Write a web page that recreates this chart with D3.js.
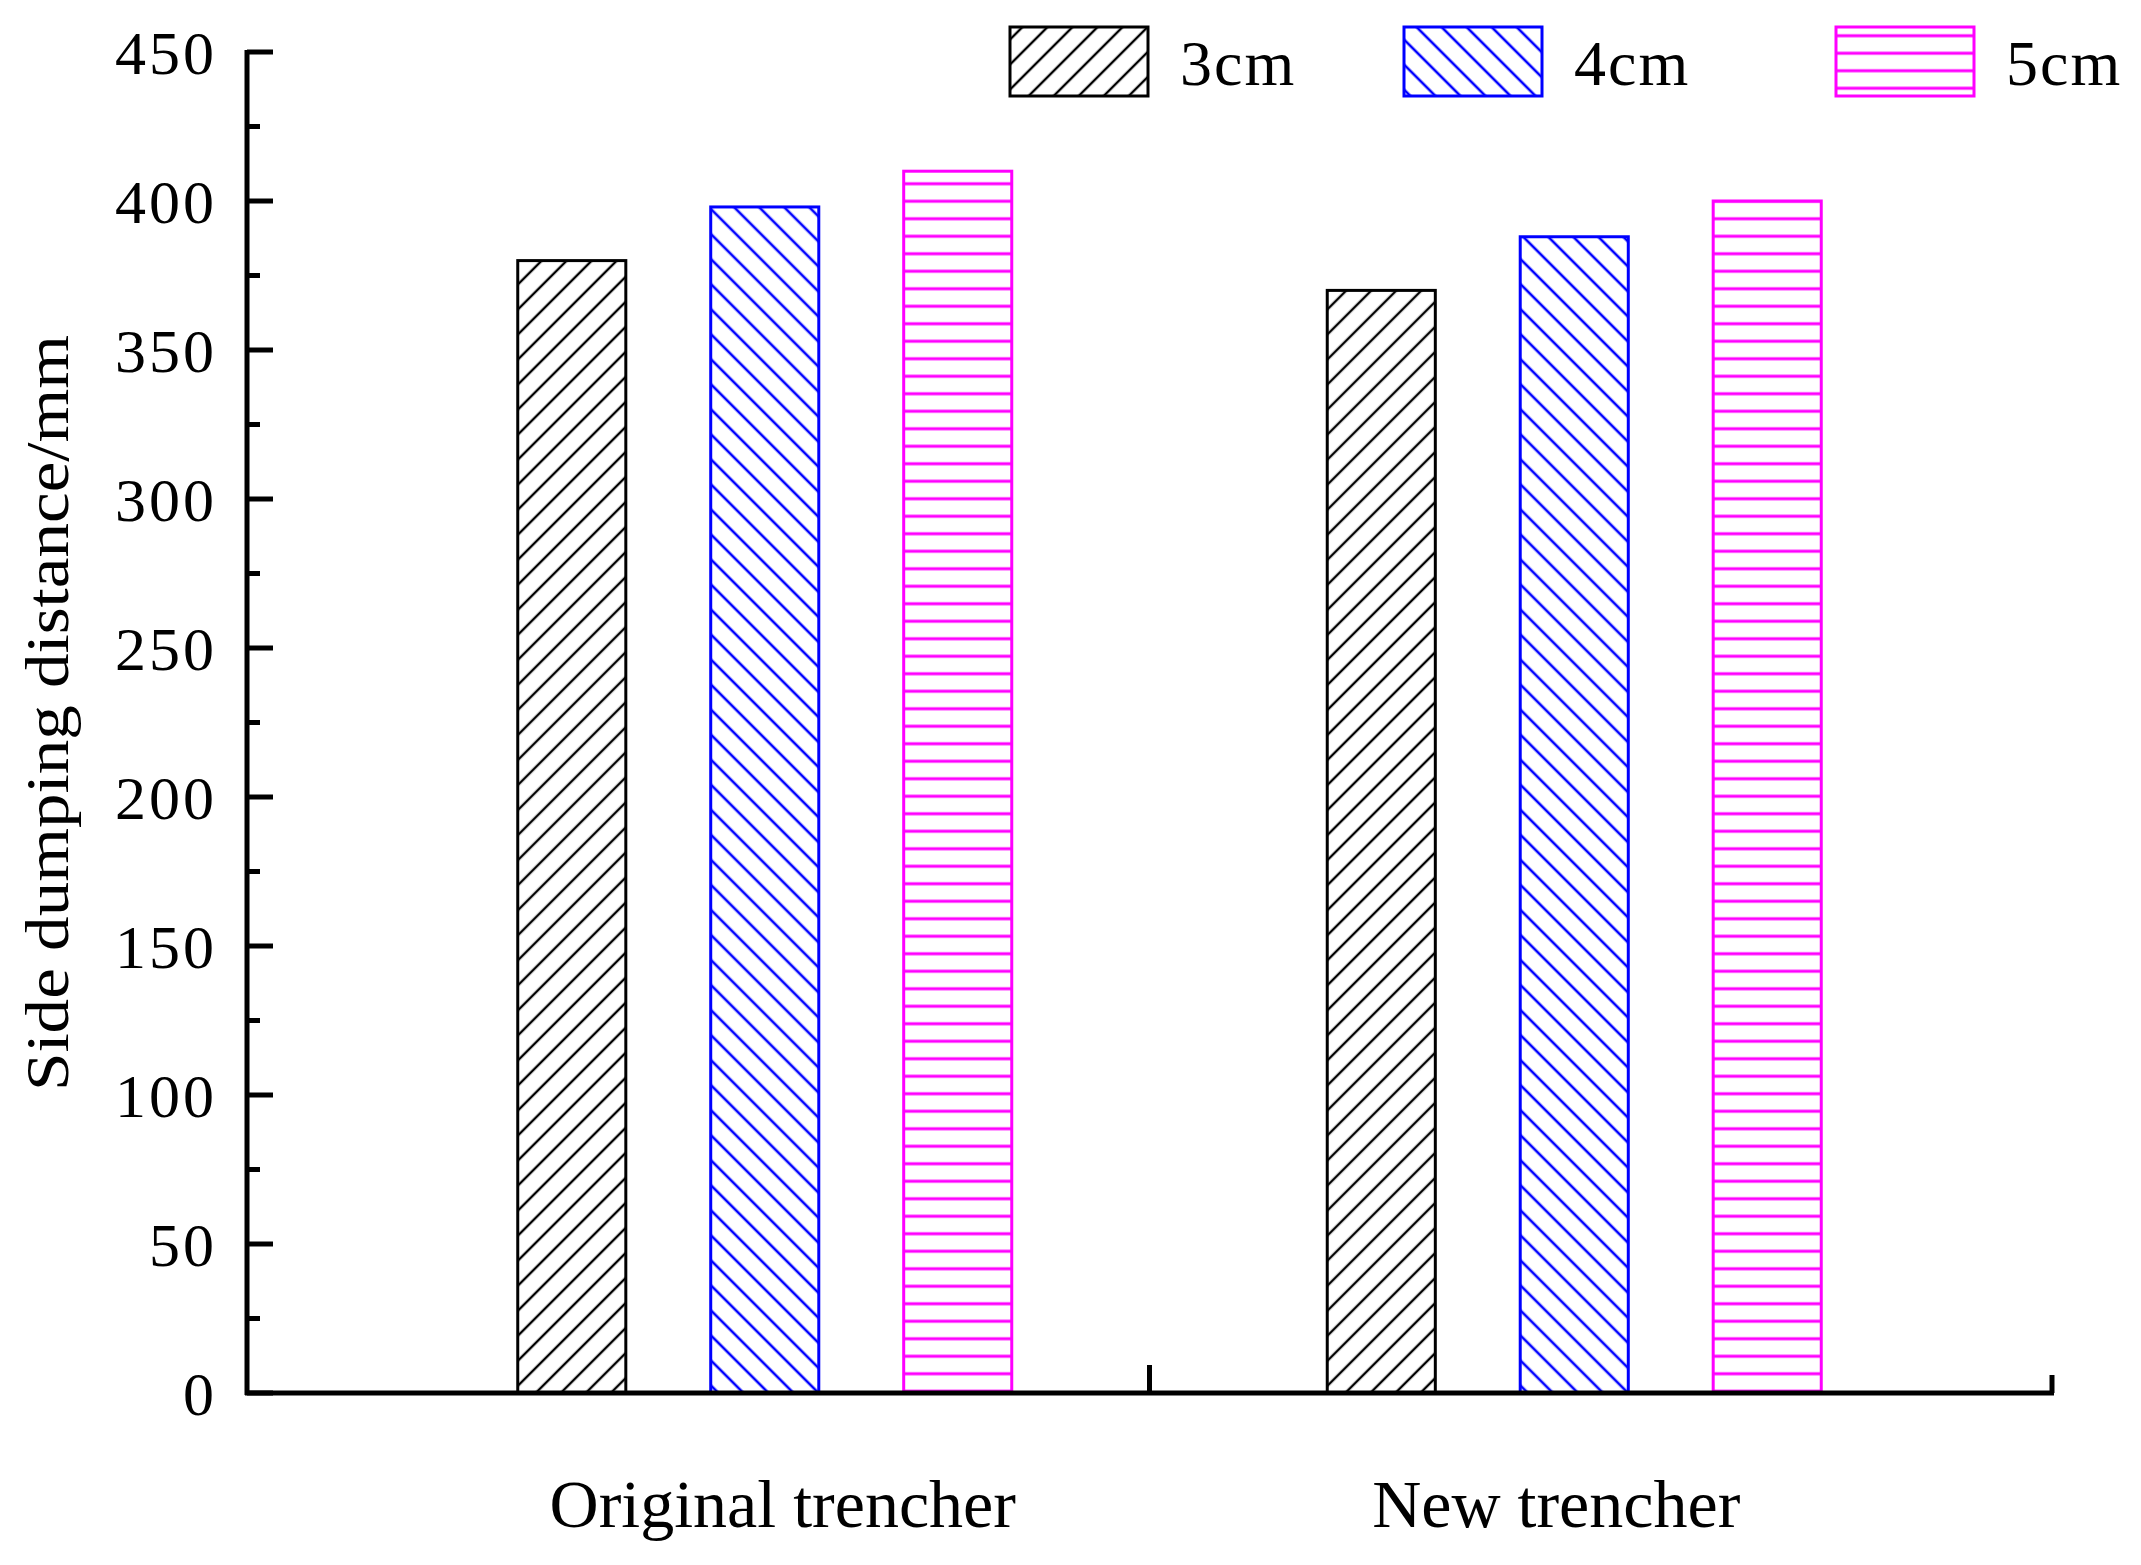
<!DOCTYPE html>
<html>
<head>
<title>Side dumping distance</title>
<style>
 body { margin: 0; background: #fff; }
 text { font-family: "Liberation Serif", "Times New Roman", serif; fill: #000; }
</style>
</head>
<body>
<div id="chart"></div>
<script src="https://d3js.org/d3.v7.min.js"></script>
<script>

const categories = ['Original trencher', 'New trencher'];
const series = ['3cm', '4cm', '5cm'];
const values3cm = [380, 370];
const values4cm = [398, 388];
const values5cm = [410, 400];
const yTicks = [0, 50, 100, 150, 200, 250, 300, 350, 400, 450];
const yMinorTicks = [25, 75, 125, 175, 225, 275, 325, 375, 425];

const colors = { '3cm': '#000000', '4cm': '#0000ff', '5cm': '#ff00ff' };
const valuesBySeries = { '3cm': values3cm, '4cm': values4cm, '5cm': values5cm };

const width = 2141;
const height = 1565;
const margin = { top: 52, bottom: 172, left: 247, right: 89 };
const legendX = [1010, 1404, 1836];

const svg = d3.select('#chart')
  .append('svg')
  .attr('width', width)
  .attr('height', height);

// hatch patterns
const defs = svg.append('defs');
function hatch(id, color, angle, spacing, sw) {
  const p = defs.append('pattern')
    .attr('id', id)
    .attr('patternUnits', 'userSpaceOnUse')
    .attr('width', spacing)
    .attr('height', spacing)
    .attr('patternTransform', `rotate(${angle})`);
  p.append('rect').attr('width', spacing).attr('height', spacing).attr('fill', '#fff');
  p.append('line')
    .attr('x1', 0).attr('y1', spacing / 2)
    .attr('x2', spacing).attr('y2', spacing / 2)
    .attr('stroke', color)
    .attr('stroke-width', sw);
}
hatch('p3cm', colors['3cm'], -45, 17.7, 2.4);
hatch('p4cm', colors['4cm'], 45, 17.7, 2.6);
hatch('p5cm', colors['5cm'], 0, 17.5, 3);

const y = d3.scaleLinear()
  .domain([0, 450])
  .range([height - margin.bottom, margin.top]);

// axis frame scale (tick marks at category boundaries)
const xAxisScale = d3.scaleBand()
  .domain(categories)
  .range([margin.left, width - margin.right]);

// group placement
const xg = d3.scaleBand()
  .domain(categories)
  .range([360, 1979]);

const x1 = d3.scaleBand()
  .domain(series)
  .range([-247, 247])
  .paddingInner(0.44);

const groups = svg.append('g')
  .selectAll('g')
  .data(categories)
  .join('g')
  .attr('transform', d => `translate(${xg(d) + xg.bandwidth() / 2},0)`);

groups.selectAll('rect')
  .data((d, i) => series.map(s => ({ s: s, v: valuesBySeries[s][i] })))
  .join('rect')
  .attr('x', d => x1(d.s))
  .attr('y', d => y(d.v))
  .attr('width', x1.bandwidth())
  .attr('height', d => y(0) - y(d.v))
  .attr('fill', d => `url(#p${d.s})`)
  .attr('stroke', d => colors[d.s])
  .attr('stroke-width', 3);

// y axis
const yAxis = svg.append('g');
yAxis.append('line')
  .attr('x1', margin.left).attr('x2', margin.left)
  .attr('y1', y(450) - 2).attr('y2', y(0) + 2)
  .attr('stroke', '#000').attr('stroke-width', 5);
yAxis.selectAll('.major')
  .data(yTicks)
  .join('line')
  .attr('class', 'major')
  .attr('x1', margin.left).attr('x2', margin.left + 26)
  .attr('y1', d => y(d)).attr('y2', d => y(d))
  .attr('stroke', '#000').attr('stroke-width', 5);
yAxis.selectAll('.minor')
  .data(yMinorTicks)
  .join('line')
  .attr('class', 'minor')
  .attr('x1', margin.left).attr('x2', margin.left + 13)
  .attr('y1', d => y(d)).attr('y2', d => y(d))
  .attr('stroke', '#000').attr('stroke-width', 5);
yAxis.selectAll('text')
  .data(yTicks)
  .join('text')
  .attr('x', margin.left - 30)
  .attr('y', d => y(d))
  .attr('dy', '0.36em')
  .attr('text-anchor', 'end')
  .attr('font-size', 62)
  .attr('letter-spacing', 3)
  .text(d => d);

// x axis
const xAxis = svg.append('g');
xAxis.append('line')
  .attr('x1', margin.left - 2).attr('x2', width - margin.right + 2)
  .attr('y1', y(0)).attr('y2', y(0))
  .attr('stroke', '#000').attr('stroke-width', 5);
xAxis.selectAll('line.tick')
  .data(categories)
  .join('line')
  .attr('class', 'tick')
  .attr('x1', d => xAxisScale(d) + xAxisScale.bandwidth())
  .attr('x2', d => xAxisScale(d) + xAxisScale.bandwidth())
  .attr('y1', y(0))
  .attr('y2', (d, i) => y(0) - (i === 0 ? 28 : 18))
  .attr('stroke', '#000').attr('stroke-width', 5);
xAxis.selectAll('text')
  .data(categories)
  .join('text')
  .attr('x', (d, i) => xg(d) + xg.bandwidth() / 2 + (i === 0 ? 18 : -18))
  .attr('y', 1527)
  .attr('text-anchor', 'middle')
  .attr('font-size', 68)
  .text(d => d);

// y title
svg.append('text')
  .attr('transform', 'translate(68,713) rotate(-90)')
  .attr('text-anchor', 'middle')
  .attr('font-size', 62)
  .attr('textLength', 756)
  .attr('lengthAdjust', 'spacingAndGlyphs')
  .text('Side dumping distance/mm');

// legend
const legend = svg.append('g')
  .selectAll('g')
  .data(series)
  .join('g')
  .attr('transform', (d, i) => `translate(${legendX[i]},27)`);
legend.append('rect')
  .attr('width', 138)
  .attr('height', 69)
  .attr('fill', d => `url(#p${d})`)
  .attr('stroke', d => colors[d])
  .attr('stroke-width', 3);
legend.append('text')
  .attr('x', 170)
  .attr('y', 58)
  .attr('font-size', 64)
  .attr('letter-spacing', 2)
  .text(d => d);

</script>
</body>
</html>
